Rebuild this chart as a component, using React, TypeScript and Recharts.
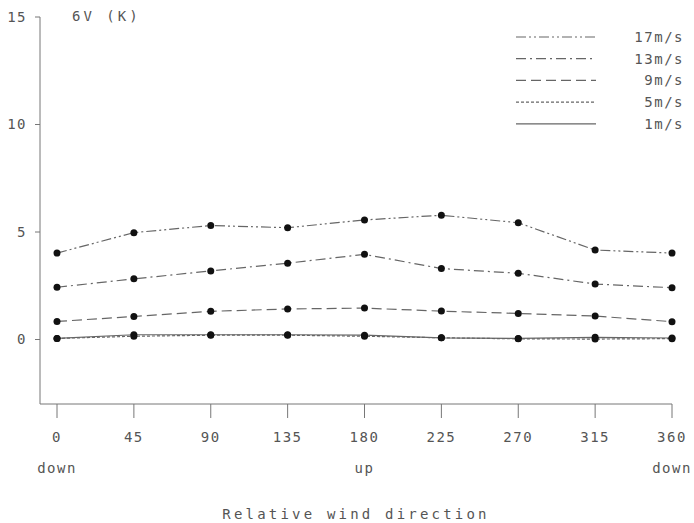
import { LineChart, Line, XAxis, YAxis } from 'recharts';

const directions = [0, 45, 90, 135, 180, 225, 270, 315, 360];
const sideLabels: Record<number, string> = { 0: 'down', 180: 'up', 360: 'down' };
const yTicks = [0, 5, 10, 15];

const s17 = [4.02, 4.97, 5.3, 5.2, 5.56, 5.78, 5.43, 4.16, 4.02];
const s13 = [2.43, 2.82, 3.19, 3.55, 3.96, 3.3, 3.08, 2.58, 2.41];
const s9 = [0.84, 1.07, 1.31, 1.42, 1.46, 1.32, 1.21, 1.09, 0.83];
const s5 = [0.05, 0.15, 0.2, 0.2, 0.15, 0.08, 0.03, 0.02, 0.04];
const s1 = [0.05, 0.22, 0.22, 0.22, 0.2, 0.08, 0.05, 0.1, 0.07];

const series = [
    { key: 'v17', name: '17m/s', values: s17, dash: '10 3 2 3 2 3' },
    { key: 'v13', name: '13m/s', values: s13, dash: '10 4 2 4' },
    { key: 'v9', name: '9m/s', values: s9, dash: '10 5' },
    { key: 'v5', name: '5m/s', values: s5, dash: '3 2' },
    { key: 'v1', name: '1m/s', values: s1, dash: undefined },
];

const data = directions.map((d, i) => {
    const row: Record<string, number> = { dir: d };
    series.forEach(s => { row[s.key] = s.values[i]; });
    return row;
});

const FONT = '"DejaVu Sans Mono", monospace';
const INK = '#555';

const XTick = (props: any) => {
    const { x, y, payload } = props;
    const side = sideLabels[payload.value];
    return (
        <g>
            <text x={x} y={y + 24} textAnchor="middle" fontFamily={FONT} fontSize={14} letterSpacing={1.5} fill={INK}>
                {payload.value}
            </text>
            {side && (
                <text x={x} y={y + 55} textAnchor="middle" fontFamily={FONT} fontSize={14} letterSpacing={1.5} fill={INK}>
                    {side}
                </text>
            )}
        </g>
    );
};

// legend drawn as an overlay so it doesn't eat into the plot area
const LegendBox = () => (
    <svg width={184} height={110} style={{ position: 'absolute', left: 510, top: 28 }}>
        {series.map((s, i) => (
            <g key={s.key}>
                <line x1={6} x2={86} y1={9 + i * 21.7} y2={9 + i * 21.7} stroke="#666" strokeWidth={1.2} strokeDasharray={s.dash} />
                <text x={174} y={14 + i * 21.7} textAnchor="end" fontFamily={FONT} fontSize={14} letterSpacing={1.5} fill={INK}>
                    {s.name}
                </text>
            </g>
        ))}
    </svg>
);

export default function App() {
    return (
        <div style={{ position: 'absolute', left: 0, top: 0, width: 694, height: 523, background: '#fff' }}>
            <LineChart width={694} height={523} data={data} margin={{ top: 17, right: 22, bottom: 0, left: 0 }}>
                <XAxis
                    dataKey="dir"
                    type="number"
                    domain={[0, 360]}
                    ticks={directions}
                    padding={{ left: 17, right: 0 }}
                    height={119}
                    tickSize={14}
                    tickMargin={0}
                    stroke="#777"
                    tick={<XTick />}
                    label={{ value: 'Relative wind direction', position: 'insideBottom', offset: 4, style: { fontFamily: FONT, fontSize: 14, letterSpacing: 3.2, fill: INK } }}
                />
                <YAxis
                    type="number"
                    domain={[-3, 15]}
                    ticks={yTicks}
                    width={40}
                    tickSize={5}
                    tickMargin={8}
                    stroke="#777"
                    tick={{ fontFamily: FONT, fontSize: 14, letterSpacing: 1.5, fill: INK }}
                />
                {series.map(s => (
                    <Line
                        key={s.key}
                        dataKey={s.key}
                        name={s.name}
                        stroke="#666"
                        strokeWidth={1.2}
                        strokeDasharray={s.dash}
                        dot={{ r: 3.5, fill: '#111', stroke: '#111', strokeWidth: 0 }}
                        activeDot={false}
                        isAnimationActive={false}
                    />
                ))}
            </LineChart>
            <div style={{ position: 'absolute', left: 72, top: 8, fontFamily: FONT, fontSize: 14, letterSpacing: 3, color: INK }}>
                6V (K)
            </div>
            <LegendBox />
        </div>
    );
}
